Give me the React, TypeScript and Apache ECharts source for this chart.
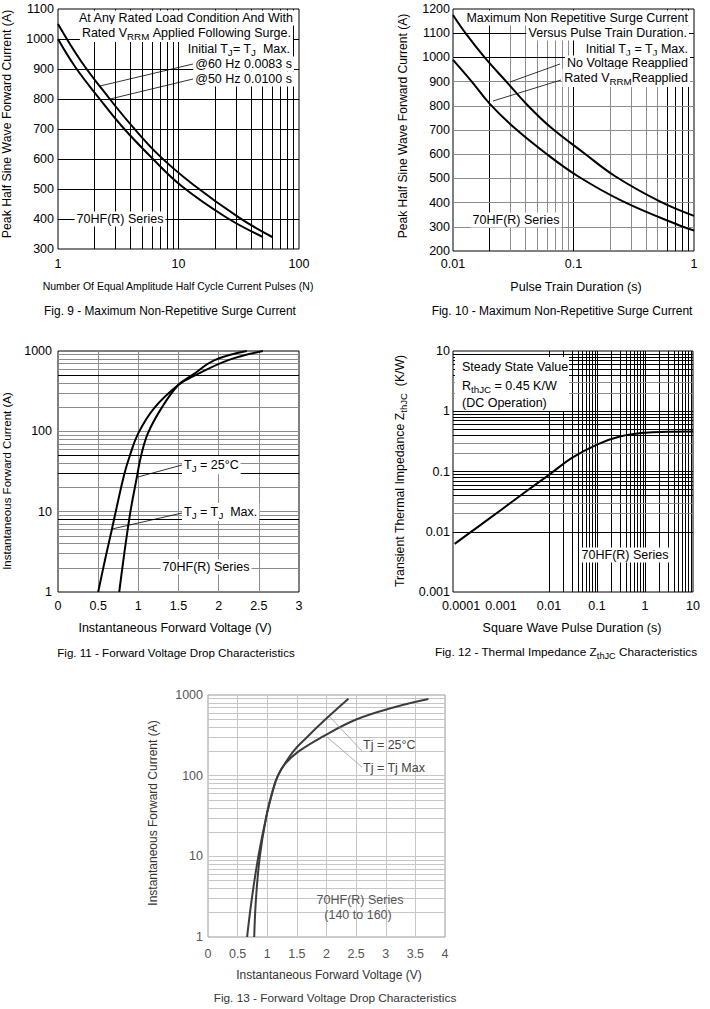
import React, { useEffect, useRef } from 'react';
import * as echarts from 'echarts';

const FONT = '"Liberation Sans", Arial, Helvetica, sans-serif';
const GRAY = '#8c8c8c';
const LGRAY = '#c6c6c6';

// ---------- Fig. 9 ----------
const fig9N60 = [1, 1.56, 2.69, 4.07, 6.9, 13.2, 32.3, 60];
const fig9I60 = [1050, 925, 800, 712, 612, 515, 403, 340];
const fig9N50 = [1, 1.4, 2.22, 3.46, 5.97, 10.6, 25, 50];
const fig9I50 = [1000, 905, 800, 705, 605, 510, 405, 340];
const fig9XLabels = ['1', '10', '100'];

// ---------- Fig. 10 ----------
const fig10TNoV = [0.01, 0.0127, 0.0183, 0.0277, 0.042, 0.065, 0.122, 0.22, 0.52, 1];
const fig10INoV = [1175, 1100, 1000, 900, 800, 710, 605, 510, 405, 345];
const fig10TRated = [0.01, 0.0142, 0.0202, 0.0325, 0.058, 0.108, 0.26, 0.81, 1];
const fig10IRated = [990, 902, 808, 708, 606, 510, 404, 300, 285];
const fig10XLabels = ['0.01', '0.1', '1'];

// ---------- Fig. 11 ----------
const fig11VTjMax = [0.5, 0.585, 0.667, 0.82, 0.895, 1.0, 1.2, 1.5, 1.7, 2.12, 2.55];
const fig11ITjMax = [1, 2.5, 5.8, 28, 50, 95, 196, 380, 493, 770, 1000];
const fig11V25 = [0.762, 0.89, 0.985, 1.035, 1.12, 1.29, 1.5, 1.67, 1.95, 2.35];
const fig11I25 = [1, 8.5, 28, 50, 95, 196, 380, 500, 770, 1000];
const currentLabels = ['1', '10', '100', '1000'];

// ---------- Fig. 12 ----------
const fig12T = [0.000108, 0.0003, 0.001, 0.003, 0.01, 0.03, 0.1, 0.3, 1, 3, 10];
const fig12Z = [0.0063, 0.0114, 0.023, 0.044, 0.088, 0.168, 0.28, 0.38, 0.44, 0.455, 0.46];
const fig12XLabels = ['0.0001', '0.001', '0.01', '0.1', '1', '10'];
const fig12YLabels = ['0.001', '0.01', '0.1', '1', '10'];

// ---------- Fig. 13 ----------
const fig13VTjMax = [0.66, 0.74, 0.85, 0.98, 1.08, 1.18, 1.3, 1.53, 1.92, 2.51, 3.13, 3.72];
const fig13ITjMax = [1, 3, 10, 30, 60, 100, 140, 200, 300, 500, 700, 890];
const fig13V25 = [0.78, 0.81, 0.875, 0.98, 1.08, 1.18, 1.44, 1.67, 1.97, 2.37];
const fig13I25 = [1, 3, 10, 30, 60, 100, 200, 300, 490, 900];

// ---------- helpers ----------
type LineDef = { v: number; c: string };

function logGrid(e0: number, e1: number, color: (e: number, k: number) => string): LineDef[] {
  const out: LineDef[] = [];
  for (let e = e0; e < e1; e++) {
    for (let k = 1; k <= 9; k++) {
      if (e === e0 && k === 1) continue;
      out.push({ v: +(k * Math.pow(10, e)).toPrecision(6), c: color(e, k) });
    }
  }
  return out;
}
function linGrid(vals: number[], color: (v: number) => string): LineDef[] {
  return vals.map((v) => ({ v, c: color(v) }));
}

function gridSeries(i: number, xs: LineDef[], ys: LineDef[], corner: number[]) {
  return {
    type: 'line',
    xAxisIndex: i,
    yAxisIndex: i,
    data: [corner],
    symbol: 'none',
    silent: true,
    z: 1,
    lineStyle: { opacity: 0 },
    markLine: {
      silent: true,
      symbol: ['none', 'none'],
      label: { show: false },
      z: 1,
      emphasis: { disabled: true },
      data: [
        ...xs.map((d) => ({ xAxis: d.v, lineStyle: { color: d.c, width: 1, type: 'solid' } })),
        ...ys.map((d) => ({ yAxis: d.v, lineStyle: { color: d.c, width: 1, type: 'solid' } })),
      ],
    },
  };
}

function curve(i: number, xs: number[], ys: number[], color = '#000', width = 2) {
  return {
    type: 'line',
    xAxisIndex: i,
    yAxisIndex: i,
    data: xs.map((x, j) => [x, ys[j]]),
    symbol: 'none',
    showSymbol: false,
    smooth: 0.4,
    silent: true,
    z: 5,
    lineStyle: { color, width },
  };
}

const logFmt = (labels: string[], minExp: number, firstRich = false) => (v: number) => {
  const idx = Math.round(Math.log10(v)) - minExp;
  const s = labels[idx] ?? '';
  return firstRich && idx === 0 ? '{m|' + s + '}' : s;
};
const plainFmt = (v: number) => String(v);

const labelStyle = (margin: number, color = '#000') => ({
  fontFamily: FONT,
  fontSize: 12.5,
  color,
  margin,
  showMinLabel: true,
  showMaxLabel: true,
});

const baseAxis = {
  axisLine: { show: false },
  axisTick: { show: false },
  splitLine: { show: false },
};

function rich(size: number, color: string) {
  return {
    n: { fontSize: size, fontFamily: FONT, fill: color, lineHeight: 16, verticalAlign: 'middle' },
    s: { fontSize: size * 0.78, fontFamily: FONT, fill: color, lineHeight: 16, verticalAlign: 'bottom' },
  };
}

function T(x: number, y: number, text: string, o: any = {}) {
  const size = o.fontSize ?? 12.5;
  const color = o.fill ?? '#000';
  const style: any = {
    text,
    fontFamily: FONT,
    fontSize: size,
    fill: color,
    align: o.align ?? 'left',
    verticalAlign: 'middle',
  };
  if (o.bg) {
    style.backgroundColor = '#fff';
    style.padding = o.padding ?? [1, 2];
  }
  if (text.indexOf('{n|') >= 0) style.rich = rich(size, color);
  const el: any = { type: 'text', x, y, z: 100, silent: true, style };
  if (o.rot) el.rotation = Math.PI / 2;
  return el;
}

function L(x1: number, y1: number, x2: number, y2: number, color = '#000', w = 0.8) {
  return { type: 'line', z: 90, silent: true, shape: { x1, y1, x2, y2 }, style: { stroke: color, lineWidth: w } };
}

export default function App() {
  const ref = useRef<HTMLDivElement>(null);

  useEffect(() => {
    if (!ref.current) return;
    const chart = echarts.init(ref.current, undefined, { renderer: 'svg' });

    const g9x = logGrid(0, 2, () => '#000');
    const g9y = linGrid([400, 500, 600, 700, 800, 900, 1000], () => '#000');

    const g10x = logGrid(-2, 0, (e, k) => (k === 1 || (e === -2 && k === 2) || (e === -1 && k >= 6) ? '#000' : GRAY));
    const g10y = linGrid([300, 400, 500, 600, 700, 800, 900, 1000, 1100], (v) => (v >= 1000 ? '#000' : GRAY));

    const g11x = linGrid([0.5, 1, 1.5, 2, 2.5], () => GRAY);
    const g11y = logGrid(0, 3, (e, k) => {
      const v = k * Math.pow(10, e);
      return [8, 30, 50, 500].some((b) => Math.abs(b - v) < 1e-6) ? '#000' : GRAY;
    });

    const g12x = logGrid(-4, 1, (e, k) => {
      if (k === 1) return '#000';
      if (e === -4) return k >= 8 ? '#000' : GRAY;
      if (e === -3) return k === 3 ? '#000' : GRAY;
      return '#000';
    });
    const g12y = logGrid(-3, 1, (e, k) => (k === 2 || k === 3 ? GRAY : '#000'));

    const g13x = linGrid([0.5, 1, 1.5, 2, 2.5, 3, 3.5], () => LGRAY);
    const g13y = logGrid(0, 3, () => LGRAY);

    const option: any = {
      animation: false,
      backgroundColor: '#fff',
      textStyle: { fontFamily: FONT },
      grid: [
        { left: 58, top: 9, width: 241, height: 240, show: true, borderColor: '#000', borderWidth: 1, backgroundColor: 'transparent' },
        { left: 453, top: 9, width: 241, height: 242, show: true, borderColor: '#000', borderWidth: 1, backgroundColor: 'transparent' },
        { left: 58, top: 351, width: 241, height: 241, show: true, borderColor: '#000', borderWidth: 1, backgroundColor: 'transparent' },
        { left: 453, top: 351, width: 240, height: 241, show: true, borderColor: '#000', borderWidth: 1, backgroundColor: 'transparent' },
        { left: 208, top: 695, width: 237, height: 242, show: true, borderColor: '#9a9a9a', borderWidth: 1, backgroundColor: 'transparent' },
      ],
      xAxis: [
        { ...baseAxis, type: 'log', logBase: 10, gridIndex: 0, min: 1, max: 100, axisLabel: { ...labelStyle(8), formatter: logFmt(fig9XLabels, 0) } },
        { ...baseAxis, type: 'log', logBase: 10, gridIndex: 1, min: 0.01, max: 1, axisLabel: { ...labelStyle(6), formatter: logFmt(fig10XLabels, -2) } },
        { ...baseAxis, type: 'value', gridIndex: 2, min: 0, max: 3, interval: 0.5, axisLabel: { ...labelStyle(7), formatter: plainFmt } },
        {
          ...baseAxis, type: 'log', logBase: 10, gridIndex: 3, min: 0.0001, max: 10,
          axisLabel: {
            ...labelStyle(7),
            formatter: logFmt(fig12XLabels, -4, true),
            rich: { m: { fontFamily: FONT, fontSize: 12.5, color: '#000', padding: [0, 0, 0, 16] } },
          },
        },
        { ...baseAxis, type: 'value', gridIndex: 4, min: 0, max: 4, interval: 0.5, axisLabel: { ...labelStyle(10, '#555'), formatter: plainFmt } },
      ],
      yAxis: [
        { ...baseAxis, type: 'value', gridIndex: 0, min: 300, max: 1100, interval: 100, axisLabel: { ...labelStyle(4), formatter: plainFmt } },
        { ...baseAxis, type: 'value', gridIndex: 1, min: 200, max: 1200, interval: 100, axisLabel: { ...labelStyle(3), formatter: plainFmt } },
        { ...baseAxis, type: 'log', logBase: 10, gridIndex: 2, min: 1, max: 1000, axisLabel: { ...labelStyle(6), formatter: logFmt(currentLabels, 0) } },
        { ...baseAxis, type: 'log', logBase: 10, gridIndex: 3, min: 0.001, max: 10, axisLabel: { ...labelStyle(3), formatter: logFmt(fig12YLabels, -3) } },
        { ...baseAxis, type: 'log', logBase: 10, gridIndex: 4, min: 1, max: 1000, axisLabel: { ...labelStyle(5, '#555'), formatter: logFmt(currentLabels, 0) } },
      ],
      series: [
        gridSeries(0, g9x, g9y, [1, 300]),
        gridSeries(1, g10x, g10y, [0.01, 200]),
        gridSeries(2, g11x, g11y, [0, 1]),
        gridSeries(3, g12x, g12y, [0.0001, 0.001]),
        gridSeries(4, g13x, g13y, [0, 1]),
        curve(0, fig9N60, fig9I60),
        curve(0, fig9N50, fig9I50),
        curve(1, fig10TNoV, fig10INoV),
        curve(1, fig10TRated, fig10IRated),
        curve(2, fig11VTjMax, fig11ITjMax),
        curve(2, fig11V25, fig11I25),
        curve(3, fig12T, fig12Z),
        curve(4, fig13VTjMax, fig13ITjMax, '#3c3c3c'),
        curve(4, fig13V25, fig13I25, '#3c3c3c'),
      ],
      graphic: [
        // Fig 9
        T(295, 18, 'At Any Rated Load Condition And With', { align: 'right', bg: true }),
        T(293, 33, '{n|Rated V}{s|RRM}{n| Applied Following Surge.}', { align: 'right', bg: true }),
        T(292, 49, '{n|Initial T}{s|J}{n|= T}{s|J}{n|  Max.}', { align: 'right', bg: true }),
        T(294, 64, '@60 Hz 0.0083 s', { align: 'right', bg: true }),
        T(294, 79, '@50 Hz 0.0100 s', { align: 'right', bg: true }),
        L(100, 86, 193, 64),
        L(110, 99, 193, 79),
        T(120, 219, '70HF(R) Series', { align: 'center', bg: true }),
        T(7, 124, 'Peak Half Sine Wave Forward Current (A)', { align: 'center', rot: true, fontSize: 12.3 }),
        T(178, 286, 'Number Of Equal Amplitude Half Cycle Current Pulses (N)', { align: 'center', fontSize: 10.5 }),
        T(170, 311, 'Fig. 9 - Maximum Non-Repetitive Surge Current', { align: 'center', fontSize: 11.9 }),

        // Fig 10
        T(690, 18, 'Maximum Non Repetitive Surge Current', { align: 'right', bg: true }),
        T(689, 33, 'Versus Pulse Train Duration.', { align: 'right', bg: true }),
        T(690, 49, '{n|Initial T}{s|J}{n| = T}{s|J}{n| Max.}', { align: 'right', bg: true }),
        T(690, 63, 'No Voltage Reapplied', { align: 'right', bg: true }),
        T(690, 78, '{n|Rated V}{s|RRM}{n|Reapplied}', { align: 'right', bg: true }),
        L(510, 82, 560, 64),
        L(493, 101, 561, 80),
        T(516, 220, '70HF(R) Series', { align: 'center', bg: true }),
        T(403, 126, 'Peak Half Sine Wave Forward Current (A)', { align: 'center', rot: true, fontSize: 12.1 }),
        T(576, 287, 'Pulse Train Duration (s)', { align: 'center' }),
        T(562, 311, 'Fig. 10 - Maximum Non-Repetitive Surge Current', { align: 'center', fontSize: 12 }),

        // Fig 11
        T(182, 465, '{n|T}{s|J}{n| = 25°C}', { bg: true }),
        T(182, 512, '{n|T}{s|J}{n| = T}{s|J}{n|  Max.}', { bg: true }),
        L(138, 477, 182, 465),
        L(112, 529, 182, 513),
        T(206, 567, '70HF(R) Series', { align: 'center', bg: true }),
        T(7, 481, 'Instantaneous Forward Current (A)', { align: 'center', rot: true, fontSize: 11.5 }),
        T(175, 628, 'Instantaneous Forward Voltage (V)', { align: 'center' }),
        T(176, 652, 'Fig. 11 - Forward Voltage Drop Characteristics', { align: 'center', fontSize: 11.6 }),

        // Fig 12
        { type: 'rect', z: 95, silent: true, shape: { x: 455, y: 357, width: 114, height: 54 }, style: { fill: '#fff' } },
        T(462, 367, 'Steady State Value'),
        T(462, 386, '{n|R}{s|thJC}{n| = 0.45 K/W}'),
        T(462, 403, '(DC Operation)'),
        T(625, 555, '70HF(R) Series', { align: 'center', bg: true }),
        T(400, 471, '{n|Transient Thermal Impedance Z}{s|thJC}{n|  (K/W)}', { align: 'center', rot: true, fontSize: 12.3 }),
        T(572, 628, 'Square Wave Pulse Duration (s)', { align: 'center' }),
        T(566, 652, '{n|Fig. 12 - Thermal Impedance Z}{s|thJC}{n| Characteristics}', { align: 'center', fontSize: 11.8 }),

        // Fig 13
        T(363, 745, 'Tj = 25°C', { fill: '#444' }),
        T(363, 768, 'Tj = Tj Max', { fill: '#444' }),
        L(362, 751, 330, 717, '#9a9a9a', 0.8),
        L(362, 767, 327, 737, '#9a9a9a', 0.8),
        T(360, 900, '70HF(R) Series', { align: 'center', fill: '#555' }),
        T(358, 915, '(140 to 160)', { align: 'center', fill: '#555' }),
        T(153, 813, 'Instantaneous Forward Current (A)', { align: 'center', rot: true, fontSize: 12, fill: '#333' }),
        T(329, 975, 'Instantaneous Forward Voltage (V)', { align: 'center', fontSize: 12, fill: '#333' }),
        T(335, 998, 'Fig. 13 - Forward Voltage Drop Characteristics', { align: 'center', fontSize: 11.8, fill: '#333' }),
      ],
    };

    chart.setOption(option);
    return () => chart.dispose();
  }, []);

  return (
    <div
      ref={ref}
      style={{ position: 'absolute', left: 0, top: 0, width: 710, height: 1009, background: '#fff' }}
    />
  );
}
